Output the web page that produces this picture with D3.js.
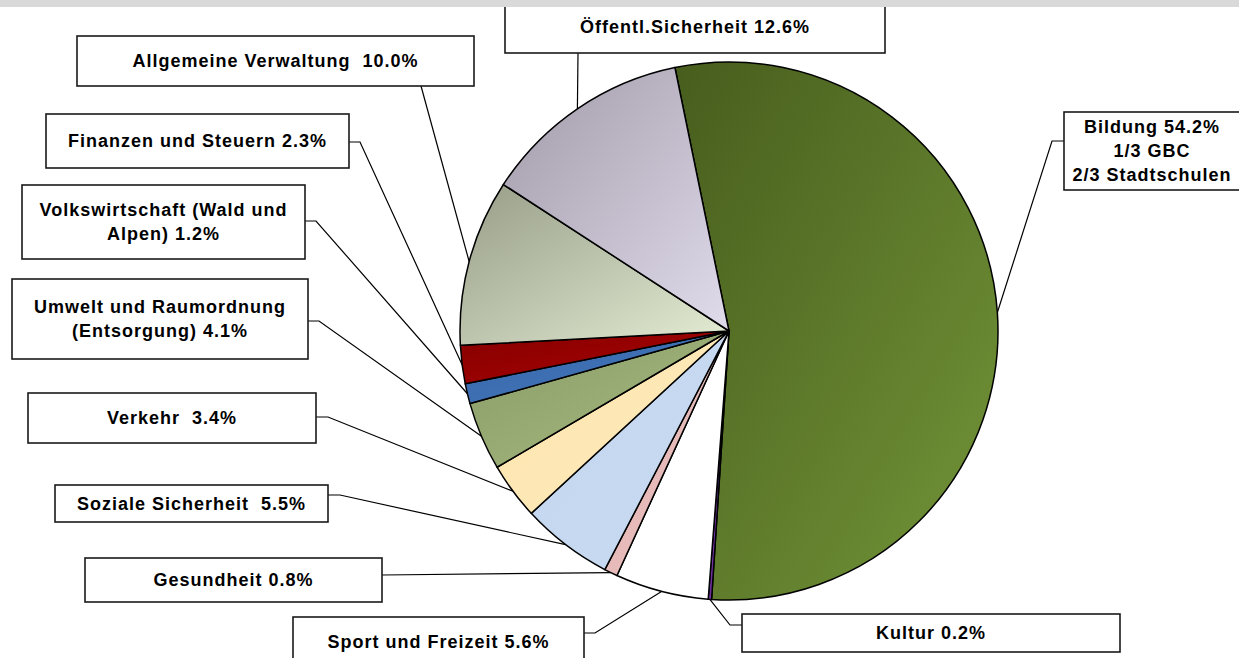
<!DOCTYPE html>
<html>
<head>
<meta charset="utf-8">
<script src="https://cdn.jsdelivr.net/npm/d3@7"></script>
<style>
  body { margin: 0; background: #fff; }
  svg { display: block; }
  text { font-family: "Liberation Sans", Arial, sans-serif; font-weight: bold; font-size: 18px; letter-spacing: 1px; white-space: pre; }
</style>
</head>
<body>
<svg id="chart" width="1239" height="658"></svg>
<script>
// data, in drawing order (clockwise from the Bildung slice)
var categories = ["Bildung", "Kultur", "Sport und Freizeit", "Gesundheit", "Soziale Sicherheit",
                  "Verkehr", "Umwelt und Raumordnung", "Volkswirtschaft", "Finanzen und Steuern",
                  "Allgemeine Verwaltung", "Öffentl.Sicherheit"];
var values = [54.2, 0.2, 5.6, 0.8, 5.5, 3.4, 4.1, 1.2, 2.3, 10.0, 12.6];
var labelLines = [
  ["Bildung 54.2%", "1/3 GBC", "2/3 Stadtschulen"],
  ["Kultur 0.2%"],
  ["Sport und Freizeit 5.6%"],
  ["Gesundheit 0.8%"],
  ["Soziale Sicherheit  5.5%"],
  ["Verkehr  3.4%"],
  ["Umwelt und Raumordnung", "(Entsorgung) 4.1%"],
  ["Volkswirtschaft (Wald und", "Alpen) 1.2%"],
  ["Finanzen und Steuern 2.3%"],
  ["Allgemeine Verwaltung  10.0%"],
  ["Öffentl.Sicherheit 12.6%"]
];

// slice colours: [gradient start (top-left), gradient end (bottom-right)]
var colors = [
  ["#475d1d", "#739538"],
  ["#7030a0", "#7030a0"],
  ["#ffffff", "#ffffff"],
  ["#e6b9b8", "#e6bcbb"],
  ["#c4d7ef", "#c8daf1"],
  ["#fee5ae", "#fdeabb"],
  ["#8a9b68", "#a8bc80"],
  ["#3a66a8", "#4279bf"],
  ["#860000", "#aa0202"],
  ["#979d87", "#e5edd5"],
  ["#a099a8", "#e1dcec"]
];

// label boxes [x, y, w, h], leader start on box edge, optional elbow
var boxes = [
  {r: [1064, 112, 176, 78], s: [1064, 141], e: [1052, 141]},
  {r: [742, 614, 378, 38],  s: [742, 625],  e: [730, 625]},
  {r: [293, 617, 291, 50],  s: [584, 633],  e: [595, 633]},
  {r: [85, 558, 297, 44],   s: [382, 575],  e: null},
  {r: [55, 485, 273, 37],   s: [328, 495],  e: [340, 495]},
  {r: [28, 393, 288, 50],   s: [316, 417],  e: [328, 417]},
  {r: [12, 279, 296, 80],   s: [308, 321],  e: [319, 321]},
  {r: [22, 185, 283, 74],   s: [305, 221],  e: [316, 221]},
  {r: [46, 114, 303, 54],   s: [349, 142],  e: [360, 142]},
  {r: [77, 36, 397, 50],    s: [421, 86],   e: null},
  {r: [505, -5, 380, 58],   s: [578, 53],   e: null}
];

var width = 1239, height = 658;
var cx = 729, cy = 331, radius = 269;
var startDeg = -11.6;

var svg = d3.select("#chart");

// thin gray band at the top
svg.append("rect").attr("x", 0).attr("y", 0).attr("width", width).attr("height", 7).attr("fill", "#d9d9d9");

var defs = svg.append("defs");
colors.forEach(function(c, i) {
  var g = defs.append("linearGradient").attr("id", "grad" + i)
    .attr("x1", 0).attr("y1", 0).attr("x2", 1).attr("y2", 1);
  g.append("stop").attr("offset", "0%").attr("stop-color", c[0]);
  g.append("stop").attr("offset", "100%").attr("stop-color", c[1]);
});

var a0 = startDeg * Math.PI / 180;
var pie = d3.pie().sort(null).value(function(d) { return d; })
  .startAngle(a0).endAngle(a0 + 2 * Math.PI);
var arcs = pie(values);

var arc = d3.arc().innerRadius(0).outerRadius(radius);
var edgeArc = d3.arc().innerRadius(radius).outerRadius(radius);

var g = svg.append("g").attr("transform", "translate(" + cx + "," + cy + ")");

g.selectAll("path.slice")
  .data(arcs)
  .enter()
  .append("path")
    .attr("class", "slice")
    .attr("d", arc)
    .attr("fill", function(d, i) { return "url(#grad" + i + ")"; })
    .attr("stroke", "#000")
    .attr("stroke-width", 1.5)
    .attr("stroke-linejoin", "round");

// leader lines
var line = d3.line();
svg.selectAll("path.leader")
  .data(arcs)
  .enter()
  .append("path")
    .attr("class", "leader")
    .attr("fill", "none")
    .attr("stroke", "#000")
    .attr("stroke-width", 1.2)
    .attr("d", function(d, i) {
      var p = edgeArc.centroid(d);
      var pts = [boxes[i].s];
      if (boxes[i].e) pts.push(boxes[i].e);
      pts.push([cx + p[0], cy + p[1]]);
      return line(pts);
    });

// label boxes
var lab = svg.selectAll("g.label")
  .data(categories)
  .enter()
  .append("g")
    .attr("class", "label");

lab.append("rect")
  .attr("x", function(d, i) { return boxes[i].r[0]; })
  .attr("y", function(d, i) { return boxes[i].r[1]; })
  .attr("width", function(d, i) { return boxes[i].r[2]; })
  .attr("height", function(d, i) { return boxes[i].r[3]; })
  .attr("fill", "#fff")
  .attr("stroke", "#1a1a1a")
  .attr("stroke-width", 1.6);

lab.each(function(d, i) {
  var b = boxes[i].r;
  var lines = labelLines[i];
  var midY = (i === 10) ? 27 : b[1] + b[3] / 2;
  var lh = 24;
  var t = d3.select(this).append("text")
    .attr("text-anchor", "middle")
    .attr("fill", "#000");
  lines.forEach(function(s, k) {
    t.append("tspan")
      .attr("x", b[0] + b[2] / 2)
      .attr("y", midY + (k - (lines.length - 1) / 2) * lh)
      .attr("dy", "0.35em")
      .text(s);
  });
});

// keep the gray band on top
svg.append("rect").attr("x", 0).attr("y", 0).attr("width", width).attr("height", 7).attr("fill", "#d9d9d9");
</script>
</body>
</html>
